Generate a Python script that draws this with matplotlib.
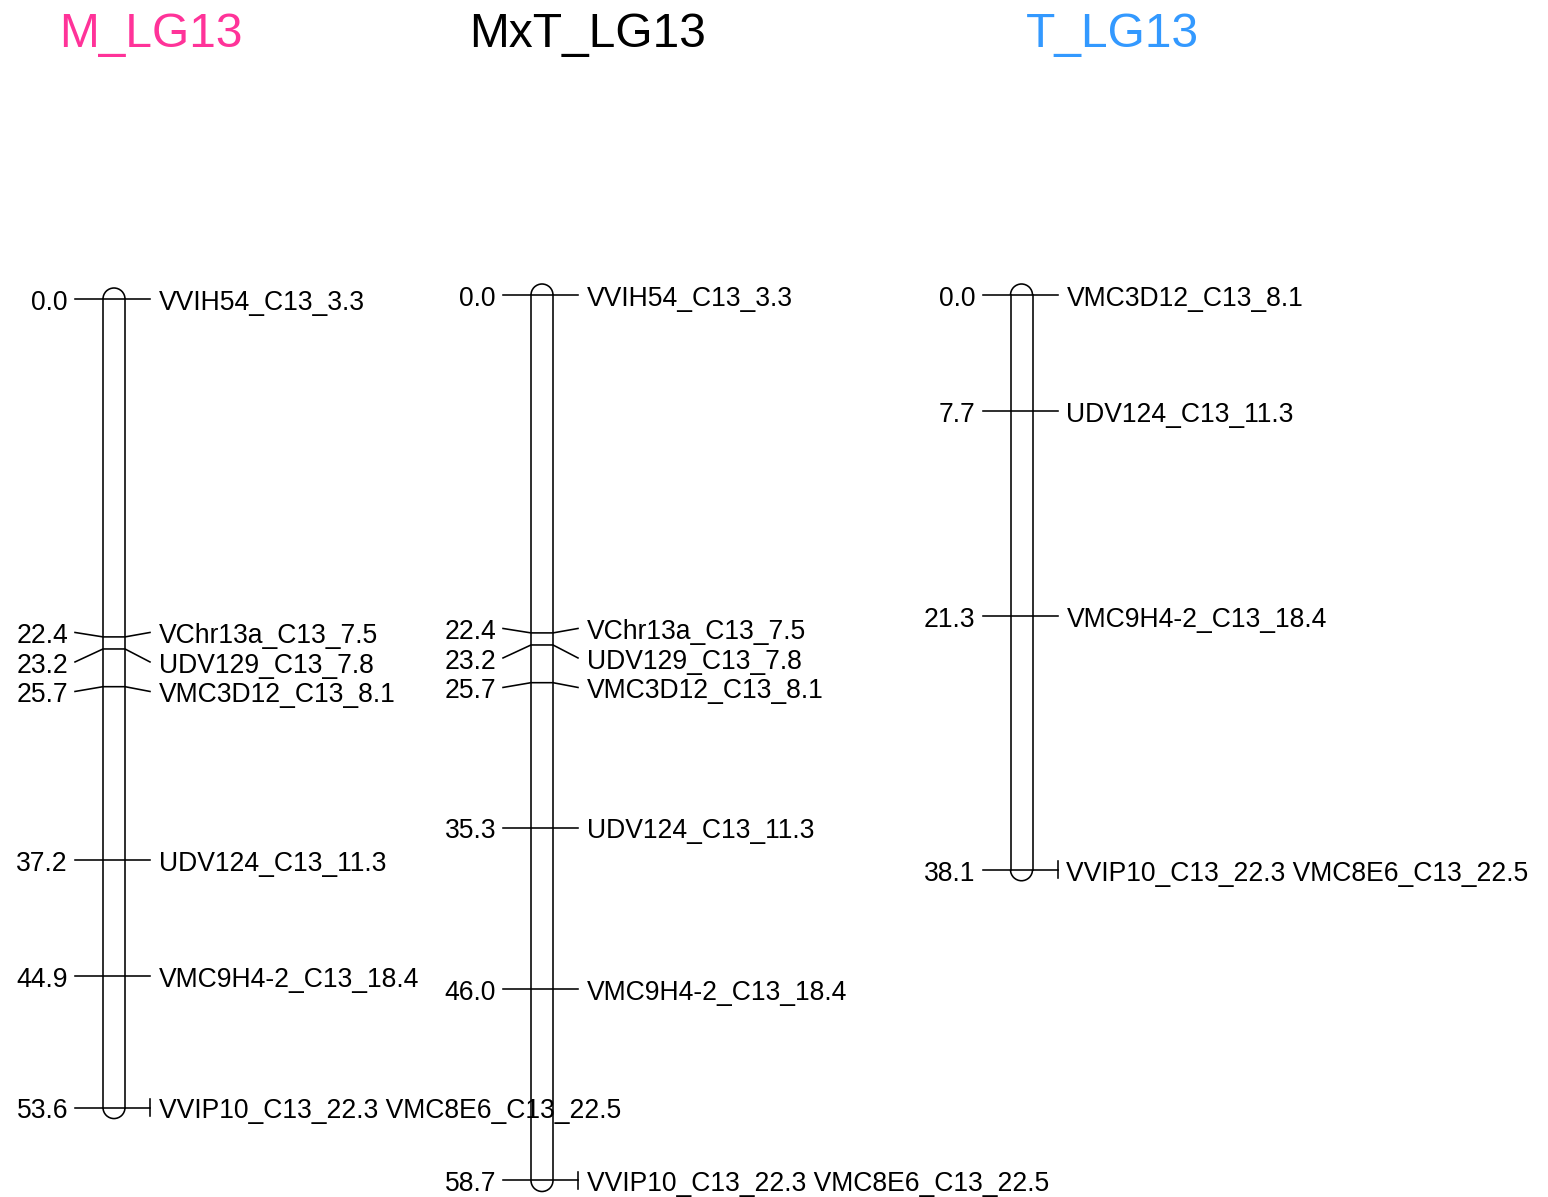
import matplotlib
matplotlib.use("Agg")
from matplotlib import pyplot as plt
from matplotlib.patches import Arc

# map data (positions in cM, marker names)
m_pos = [0.0, 22.4, 23.2, 25.7, 37.2, 44.9, 53.6, 53.6]
m_names = ["VVIH54_C13_3.3", "VChr13a_C13_7.5", "UDV129_C13_7.8", "VMC3D12_C13_8.1",
           "UDV124_C13_11.3", "VMC9H4-2_C13_18.4", "VVIP10_C13_22.3", "VMC8E6_C13_22.5"]

mxt_pos = [0.0, 22.4, 23.2, 25.7, 35.3, 46.0, 58.7, 58.7]
mxt_names = ["VVIH54_C13_3.3", "VChr13a_C13_7.5", "UDV129_C13_7.8", "VMC3D12_C13_8.1",
             "UDV124_C13_11.3", "VMC9H4-2_C13_18.4", "VVIP10_C13_22.3", "VMC8E6_C13_22.5"]

t_pos = [0.0, 7.7, 21.3, 38.1, 38.1]
t_names = ["VMC3D12_C13_8.1", "UDV124_C13_11.3", "VMC9H4-2_C13_18.4",
           "VVIP10_C13_22.3", "VMC8E6_C13_22.5"]

titles = ["M_LG13", "MxT_LG13", "T_LG13"]
title_colors = ["#FF3399", "black", "#3399FF"]

W, H = 1548, 1197
PX_PER_CM = 15.085
FONT = "Liberation Sans"
FS = 19.1
LW = 1.15

fig = plt.figure(figsize=(W / 100, H / 100), dpi=100)


def group(pos, names):
    out_pos, out_names = [], []
    for p, n in zip(pos, names):
        if out_pos and abs(out_pos[-1] - p) < 1e-9:
            out_names[-1].append(n)
        else:
            out_pos.append(p)
            out_names.append([n])
    return out_pos, out_names


def spread(pos, gap):
    lab = list(pos)
    pushed = [False] * len(pos)
    for i in range(1, len(lab)):
        if lab[i] < lab[i - 1] + gap:
            lab[i] = lab[i - 1] + gap
            pushed[i] = True
    # pull each pushed cluster half way back to its markers
    i = 0
    while i < len(lab):
        j = i
        while j + 1 < len(lab) and pushed[j + 1]:
            j += 1
        if j > i:
            k = range(i, j + 1)
            shift = 0.5 * (sum(pos[q] for q in k) - sum(lab[q] for q in k)) / len(k)
            for q in k:
                lab[q] += shift
        i = j + 1
    return lab


def draw_map(xc, y0, pos, names):
    ax = fig.add_axes([0, 0, 1, 1])
    ax.patch.set_alpha(0)
    ax.set_xlim(0, W)
    ax.set_ylim((H - y0) / PX_PER_CM, -y0 / PX_PER_CM)
    ax.axis("off")

    half = 11
    r_cm = half / PX_PER_CM
    top, bot = min(pos), max(pos)
    # chromosome bar
    ax.plot([xc - half, xc - half], [top, bot], color="black", lw=LW)
    ax.plot([xc + half, xc + half], [top, bot], color="black", lw=LW)
    ax.add_patch(Arc((xc, top), 2 * half, 2 * r_cm, theta1=180, theta2=360, color="black", lw=LW))
    ax.add_patch(Arc((xc, bot), 2 * half, 2 * r_cm, theta1=0, theta2=180, color="black", lw=LW))

    gpos, gnames = group(pos, names)
    lab = spread(gpos, 29.5 / PX_PER_CM)
    base = 10.8 / PX_PER_CM
    for p, L, nm in zip(gpos, lab, gnames):
        ax.plot([xc - 39, xc - half, xc + half, xc + 36], [L, p, p, L], color="black", lw=LW)
        if len(nm) > 1:
            ax.plot([xc + 36, xc + 36], [L - 0.55, L + 0.55], color="black", lw=LW)
        ax.text(xc - 46, L + base, f"{p:.1f}", ha="right", va="baseline",
                fontsize=FS, family=FONT)
        ax.text(xc + 45, L + base, " ".join(nm), ha="left", va="baseline",
                fontsize=FS, family=FONT)


draw_map(114, 299, m_pos, m_names)
draw_map(542, 295, mxt_pos, mxt_names)
draw_map(1021.5, 295, t_pos, t_names)

for tx, title, col in zip([151, 588, 1112], titles, title_colors):
    fig.text(tx / W, 1 - 47 / H, title, ha="center", va="baseline",
             fontsize=34.5, family=FONT, color=col)

plt.savefig("out.png", dpi=100)
